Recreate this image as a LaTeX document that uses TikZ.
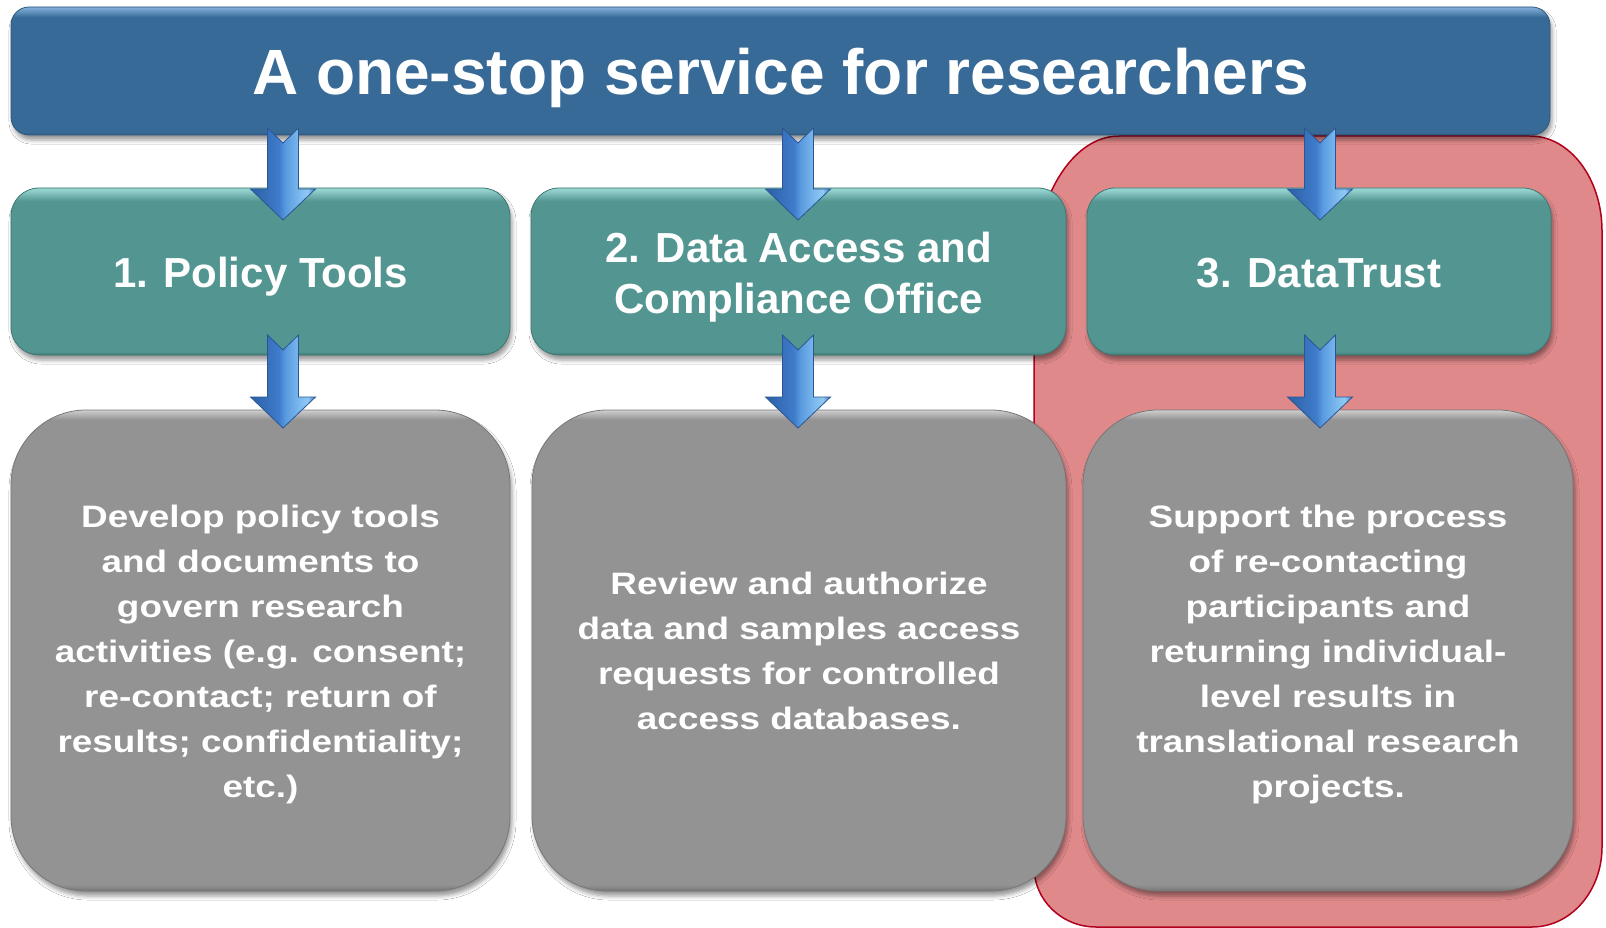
\documentclass[tikz,border=0pt]{standalone}
\usepackage{fontspec}
\setmainfont{Liberation Sans}
\newfontfamily\bodyfont{Liberation Sans}[FakeStretch=1.19]
\usetikzlibrary{shadows.blur,calc}

\definecolor{bannerbase}{HTML}{376A96}
\definecolor{bannerlt}{HTML}{7CA9D6}
\definecolor{bannerdk}{HTML}{2B577F}
\definecolor{tealbase}{HTML}{529591}
\definecolor{teallt}{HTML}{95D3CF}
\definecolor{tealdk}{HTML}{3F7773}
\definecolor{graybase}{HTML}{939393}
\definecolor{graylt}{HTML}{CFCFCF}
\definecolor{graydk}{HTML}{777777}
\definecolor{redfill}{HTML}{E0898A}
\definecolor{redline}{HTML}{B0001C}
\definecolor{arA}{HTML}{2D5FA6}
\definecolor{arB}{HTML}{3F7CCB}
\definecolor{arC}{HTML}{5A9BE0}
\definecolor{arD}{HTML}{8FCBF5}
\definecolor{arE}{HTML}{3E74BE}
\definecolor{arline}{HTML}{2A5590}

\pgfdeclareverticalshading{bannersh}{100bp}{color(0bp)=(bannerdk); color(25bp)=(bannerdk); color(26bp)=(bannerbase); color(71bp)=(bannerbase); color(74.5bp)=(bannerlt); color(100bp)=(bannerlt)}
\pgfdeclareverticalshading{tealsh}{100bp}{color(0bp)=(tealdk); color(25bp)=(tealdk); color(26bp)=(tealbase); color(71bp)=(tealbase); color(74.5bp)=(teallt); color(100bp)=(teallt)}
\pgfdeclareverticalshading{graysh}{100bp}{color(0bp)=(graydk); color(25bp)=(graydk); color(25.7bp)=(graybase); color(74bp)=(graybase); color(75bp)=(graylt); color(100bp)=(graylt)}
\pgfdeclarehorizontalshading{arrowsh}{100bp}{color(0bp)=(arA); color(25bp)=(arA); color(47bp)=(arB); color(52bp)=(arC); color(69bp)=(arD); color(75bp)=(arE); color(100bp)=(arE)}

\tikzset{
  boxshadow/.style={blur shadow={shadow xshift=2pt, shadow yshift=-5pt, shadow blur radius=4pt, shadow opacity=40}},
  bannerbox/.style={shade, shading=bannersh, draw=bannerdk, line width=0.8pt, rounded corners=18pt,
    inner sep=0pt, boxshadow, text=white, font=\fontsize{64}{70}\selectfont\bfseries},
  tealbox/.style={shade, shading=tealsh, draw=tealdk, line width=0.8pt, rounded corners=28pt,
    inner sep=0pt, boxshadow, text=white, font=\fontsize{42}{51}\selectfont\bfseries, minimum height=167pt},
  graybox/.style={shade, shading=graysh, draw=graydk, line width=0.8pt, rounded corners=75pt,
    inner sep=0pt, boxshadow, text=white, font=\bodyfont\bfseries\fontsize{31}{45}\selectfont, minimum height=481pt},
  arrowfill/.style={shade, shading=arrowsh, draw=arline, line width=0.8pt, line join=miter},
  redzone/.style={fill=redfill, draw=redline, line width=1.5pt}
}

\newcommand\fatdown[2]{%
  \path[arrowfill] let \p1=(#1), \p2=(#2) in
    (\x1-15.5pt,\y1) -- (\x1,\y1-15pt) -- (\x1+15.5pt,\y1) -- (\x1+15.5pt,\y2+31pt)
    -- (\x1+32.5pt,\y2+31pt) -- (\x1,\y2) -- (\x1-32.5pt,\y2+31pt) -- (\x1-15.5pt,\y2+31pt) -- cycle;}

\begin{document}
\begin{tikzpicture}[x=1pt,y=-1pt]
\fill[white] (0,0) rectangle (1606,928);
\useasboundingbox (0,0) rectangle (1606,928);

% red highlight zone
\path[redzone] (1034,276) .. controls (1034,198.7) and (1072,136) .. (1119,136)
  -- (1530,136) .. controls (1569.8,136) and (1602,178.5) .. (1602,231)
  -- (1602,847) .. controls (1602,891.2) and (1570.7,927) .. (1532,927)
  -- (1096,927) .. controls (1061.8,927) and (1034,900.1) .. (1034,867) -- cycle;

% banner
\node[bannerbox, minimum width=1539pt, minimum height=128pt, text height=48pt, text depth=0pt]
  (banner) at (780.5,71) {A one-stop service for researchers};

% teal boxes
\node[tealbox, minimum width=499pt, text height=32pt, text depth=0pt] (pol) at (260.5,271.5)
  {\begin{tabular}[t]{@{}c@{}}1. Policy Tools\end{tabular}};
\node[tealbox, minimum width=535pt, text height=0pt, text depth=19pt] (dac) at (798.5,271.5)
  {\begin{tabular}[t]{@{}c@{}}2. Data Access and\\Compliance Office\end{tabular}};
\node[tealbox, minimum width=464pt, text height=32pt, text depth=0pt] (dt) at (1319,271.5)
  {\begin{tabular}[t]{@{}c@{}}3. DataTrust\end{tabular}};

% gray boxes
\node[graybox, minimum width=499pt, text height=0pt, text depth=247pt] (g1) at (260.5,650.5)
  {\begin{tabular}[t]{@{}c@{}}Develop policy tools\\and documents to\\govern research\\activities (e.g. consent;\\re-contact; return of\\results; confidentiality;\\etc.)\end{tabular}};
\node[graybox, minimum width=534pt, text height=0pt, text depth=113pt] (g2) at (799,650.5)
  {\begin{tabular}[t]{@{}c@{}}Review and authorize\\data and samples access\\requests for controlled\\access databases.\end{tabular}};
\node[graybox, minimum width=490pt, text height=0pt, text depth=247pt] (g3) at (1328,650.5)
  {\begin{tabular}[t]{@{}c@{}}Support the process\\of re-contacting\\participants and\\returning individual-\\level results in\\translational research\\projects.\end{tabular}};

% arrow end points
\coordinate (a1s) at (283,128);  \coordinate (a1e) at (283,220);
\coordinate (a2s) at (798,128);  \coordinate (a2e) at (798,220);
\coordinate (a3s) at (1320,128); \coordinate (a3e) at (1320,220);
\coordinate (b1s) at (283,335);  \coordinate (b1e) at (283,428);
\coordinate (b2s) at (798,335);  \coordinate (b2e) at (798,428);
\coordinate (b3s) at (1320,335); \coordinate (b3e) at (1320,428);

\fatdown{a1s}{a1e}
\fatdown{a2s}{a2e}
\fatdown{a3s}{a3e}
\fatdown{b1s}{b1e}
\fatdown{b2s}{b2e}
\fatdown{b3s}{b3e}
\end{tikzpicture}
\end{document}
